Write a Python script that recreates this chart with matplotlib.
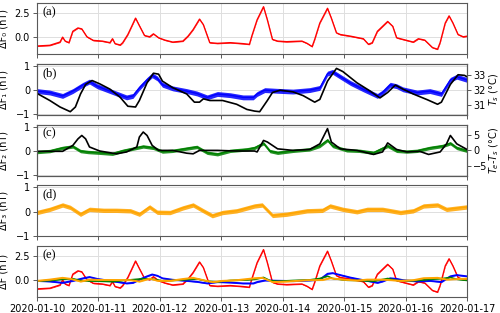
import numpy as np
import pandas as pd
import matplotlib
matplotlib.use('Agg')
import matplotlib.pyplot as plt
import matplotlib.dates as mdates

# hours after 2020-01-10 00:00
t_f0 = [0, 5, 9, 10, 11, 12.5, 14, 16, 17.5, 19.5, 22, 25.5, 28.5, 29.5, 30.5, 32.5, 33.5, 35.5, 37, 38.5,
        40, 42, 44, 45.5, 47.5, 50, 53, 57, 59, 61, 63.5, 65, 67.5, 70.5, 75.5, 80.5, 83, 84, 86, 88.5,
        90, 92, 94, 97.5, 103.5, 105.5, 107.5, 108.5, 110.5, 113.5, 115, 117, 118.5, 122.5, 127.5, 129.5,
        131, 133, 135, 137, 139, 140.5, 143, 147, 149, 151.5, 154.5, 156.5, 157.5, 159.5, 161, 162.5,
        164.5, 166.5, 168]
f0 = [-0.87, -0.8, -0.47, 0.03, -0.37, -0.53, 0.63, 0.97, 0.87, 0.07, -0.3, -0.37, -0.53, -0.13, -0.63,
      -0.77, -0.53, 0.3, 1.13, 1.97, 1.2, 0.2, 0.07, 0.37, -0.03, -0.27, -0.47, -0.37, 0.13, 0.8, 1.87,
      1.3, -0.53, -0.6, -0.53, -0.63, -0.7, 0.2, 1.8, 3.13, 1.8, -0.2, -0.37, -0.43, -0.37, -0.6, -0.93,
      -0.2, 1.47, 2.97, 1.97, 0.47, 0.3, 0.13, -0.13, -0.7, -0.53, 0.63, 1.13, 1.63, 1.13, -0.03, -0.2,
      -0.47, -0.13, -0.27, -1.03, -1.2, -0.53, 1.47, 2.2, 1.47, 0.3, 0.07, 0.13]

t_f1 = [0, 5, 10, 14, 18, 20.5, 23.5, 27.5, 31, 35, 37.5, 40, 43, 45, 47, 49, 53, 58.5, 62.5, 66.5,
        70.5, 75.5, 80.5, 84.5, 86, 89, 94, 100, 106.5, 110.5, 113.5, 115.5, 118.5, 122.5, 127.5, 133,
        135, 138, 140.5, 143, 148.5, 153.5, 158, 161.5, 164, 168]
f1 = [-0.04, -0.1, -0.24, -0.04, 0.22, 0.35, 0.16, 0, -0.14, -0.3, -0.24, 0.09, 0.42, 0.61, 0.48, 0.22,
      0.07, -0.04, -0.14, -0.3, -0.16, -0.21, -0.3, -0.3, -0.16, 0, -0.03, -0.06, 0, 0.09, 0.68, 0.75,
      0.55, 0.29, 0.03, -0.24, -0.1, 0.22, 0.16, 0.03, -0.1, -0.04, -0.16, 0.42, 0.55, 0.42]

t_ts = [0, 5, 9, 13, 15, 17, 19, 21.5, 24.5, 28.5, 32.5, 35.5, 38.5, 40, 43, 45.5, 47.5, 49, 53, 58.5,
        61.5, 63.5, 65, 67.5, 72.5, 78, 82, 85, 87, 90, 92, 95, 100, 104, 108.5, 110.5, 113.5, 117,
        119.5, 125, 130, 134, 137, 140, 143, 147, 152.5, 156.5, 158, 161.5, 164.5, 167, 168]
ts = [31.8, 31.33, 30.9, 30.59, 30.9, 31.76, 32.39, 32.65, 32.43, 32.08, 31.54, 30.95, 30.9, 31.33,
      32.5, 33.13, 33.07, 32.61, 32.18, 31.76, 31.22, 31.22, 31.44, 31.33, 31.33, 31.08, 30.74, 30.63,
      30.59, 31.33, 31.86, 32.01, 31.9, 31.65, 31.22, 31.4, 32.61, 33.45, 33.24, 32.5, 31.97, 31.5,
      31.86, 32.35, 32.08, 31.76, 31.38, 31.08, 31.22, 32.39, 33.03, 32.99, 32.9]

t_f2 = [0, 5, 10, 14, 17, 20, 24.5, 29.5, 33.5, 37.5, 41.5, 45.5, 49, 53, 60, 62.5, 66.5, 70.5, 75.5,
        82, 85, 88.5, 91, 94, 100, 106.5, 110.5, 113.5, 115.5, 121, 126, 131.5, 137, 140.5, 144.5,
        148.5, 153.5, 158.5, 161.5, 164, 168]
f2 = [-0.05, -0.01, 0.12, 0.18, -0.01, -0.05, -0.08, -0.12, 0, 0.09, 0.18, 0.12, -0.03, 0, 0.12, 0.16,
      -0.08, -0.14, 0, 0.06, 0.12, 0.31, -0.01, -0.08, 0, 0.06, 0.2, 0.44, 0.2, 0.02, 0, -0.08, 0.2, 0,
      -0.03, 0, 0.12, 0.2, 0.31, 0.12, 0]

t_dt = [0, 10, 14, 16, 17.5, 19, 20.5, 24.5, 31, 35, 39, 40, 41.5, 43, 45, 47.5, 53, 58.5, 61, 63.5,
        70.5, 78, 85, 86, 88.5, 90, 94, 100, 106.5, 110.5, 113.5, 115, 118.5, 125, 131.5, 135, 137,
        140.5, 144.5, 149.5, 153, 157.5, 160, 161.5, 164, 168]
dt = [-0.4, -0.4, 1.5, 3.6, 4.7, 3.6, 1.0, -0.3, -1.2, -0.6, 1.0, 4.2, 5.8, 4.7, 1.5, -0.1, -0.1, -1.0,
      -1.2, -0.1, -0.1, -0.3, -0.3, -0.6, 3.1, 2.6, 0.4, -0.1, 0.2, 2.0, 6.9, 2.6, 0.4, -0.1, -1.4,
      -0.6, 2.3, 0.2, -0.6, -0.4, -1.4, -0.6, 2.0, 4.7, 2.0, 0.2]

t_f3 = [0, 5, 10, 13, 17, 20.5, 26, 31, 36.5, 40, 44, 47, 52, 57, 61, 65, 68.5, 72.5, 78, 85, 88, 92,
        97.5, 105.5, 111.5, 114.5, 119.5, 125, 129, 135, 142, 147, 151, 156.5, 160, 168]
f3 = [-0.04, 0.09, 0.27, 0.17, -0.11, 0.09, 0.05, 0.05, 0.03, -0.11, 0.19, -0.03, -0.04, 0.15, 0.27,
      0.03, -0.17, -0.04, 0.03, 0.23, 0.27, -0.16, -0.11, 0.03, 0.05, 0.23, 0.09, -0.01, 0.09, 0.09,
      -0.04, 0.03, 0.23, 0.27, 0.09, 0.19]


def to_time(h):
    return pd.Timestamp('2020-01-10') + pd.to_timedelta(np.array(h, dtype=float), unit='h')


def noisy(ax, h, v, color, band, lw=1.0, zorder=2):
    t = to_time(h)
    v = np.array(v)
    ax.fill_between(t, v - band, v + band, color=color, alpha=0.85, lw=0, zorder=zorder)
    ax.plot(t, v, color=color, lw=lw, zorder=zorder)


plt.rcParams['font.size'] = 7
fig, axs = plt.subplots(5, 1, figsize=(5, 3.13), dpi=100, sharex=True)
fig.subplots_adjust(left=0.074, right=0.934, top=0.99, bottom=0.051, hspace=0.19)

names = ['ΔF₀ (nT)', 'ΔF₁ (nT)', 'ΔF₂ (nT)', 'ΔF₃ (nT)', 'ΔF (nT)']
tags = ['(a)', '(b)', '(c)', '(d)', '(e)']

noisy(axs[0], t_f0, f0, 'red', 0.05)
noisy(axs[1], t_f1, f1, 'blue', 0.1)
noisy(axs[2], t_f2, f2, 'green', 0.07)
noisy(axs[3], t_f3, f3, 'orange', 0.09)

noisy(axs[4], t_f0, f0, 'red', 0.05)
noisy(axs[4], t_f1, f1, 'blue', 0.07, lw=1.2)
noisy(axs[4], t_f2, f2, 'green', 0.05)
noisy(axs[4], t_f3, f3, 'orange', 0.07, lw=1.2)

tw1 = axs[1].twinx()
tw1.plot(to_time(t_ts), ts, color='black', lw=1.2)
tw1.set_ylim(30.38, 33.75)
tw1.set_yticks([31, 32, 33])
tw1.set_ylabel('$T_s$ (°C)', labelpad=1)

tw2 = axs[2].twinx()
tw2.plot(to_time(t_dt), dt, color='black', lw=1.2)
tw2.set_ylim(-8.2, 8.2)
tw2.set_yticks([-5, 0, 5])
tw2.set_ylabel('$T_e$-$T_s$ (°C)', labelpad=0)

for tw in (tw1, tw2):
    for s in tw.spines.values():
        s.set_color('0.35')
    tw.tick_params(length=3, width=0.7, color='0.35', pad=1.5)

for i, ax in enumerate(axs):
    ax.set_ylabel(names[i])
    ax.text(0.012, 0.82, tags[i], transform=ax.transAxes, va='center',
            family='Liberation Serif', fontsize=9)
    ax.grid(color='0.87', lw=0.7)
    ax.set_axisbelow(True)
    for s in ax.spines.values():
        s.set_color('0.35')
    ax.tick_params(length=3, width=0.7, color='0.35', pad=2)
    if i in (0, 4):
        ax.set_ylim(-1.7, 3.5)
        ax.set_yticks([0.0, 2.5])
        ax.yaxis.set_major_formatter(matplotlib.ticker.FormatStrFormatter('%.1f'))
    else:
        ax.set_ylim(-1.02, 1.08)
        ax.set_yticks([-1, 0, 1])

axs[4].set_xlim(pd.Timestamp('2020-01-10'), pd.Timestamp('2020-01-17'))
axs[4].xaxis.set_major_locator(mdates.DayLocator())
axs[4].xaxis.set_major_formatter(mdates.DateFormatter('%Y-%m-%d'))
fig.align_ylabels(axs)

plt.savefig('out.png', dpi=100)
